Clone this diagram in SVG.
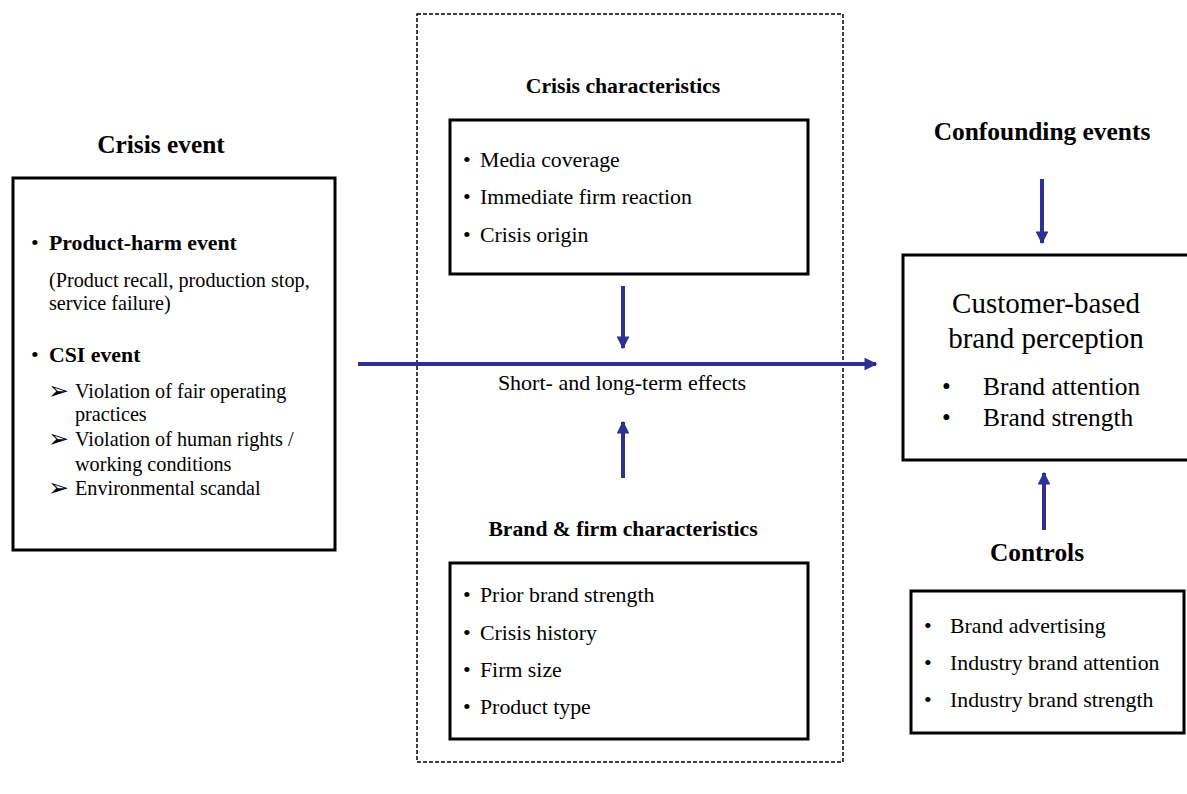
<svg xmlns="http://www.w3.org/2000/svg" width="1187" height="794" viewBox="0 0 1187 794">
  <style>
    text { font-family: "Liberation Serif", "Times New Roman", serif; fill: #000; }
    .title { font-weight: bold; font-size: 21.7px; text-anchor: middle; }
    .title-lg { font-weight: bold; font-size: 25.4px; text-anchor: middle; }
    .item { font-size: 21.8px; }
    .item-sm { font-size: 20.2px; }
    .ctl { font-size: 21.8px; }
    .dot { font-size: 22px; }
    .chev { font-size: 25px; font-family: "DejaVu Sans", sans-serif; }
    .box { fill: #fff; stroke: #000; stroke-width: 3; }
    .frame { fill: none; stroke: #000; stroke-width: 1.5; stroke-dasharray: 4 2; }
    .link { stroke: #2e3192; stroke-width: 4; fill: none; }
  </style>
  <defs>
    <marker id="head" viewBox="0 0 10 10" refX="9" refY="5" markerWidth="3.2" markerHeight="3.2" orient="auto" markerUnits="strokeWidth">
      <path d="M0,0 L10,5 L0,10 Z" fill="#2e3192"/>
    </marker>
  </defs>

  <!-- dashed frame around the moderating characteristics -->
  <rect class="frame" x="417" y="14" width="426" height="748"/>

  <!-- connectors -->
  <g id="connectors">
    <line class="link" x1="358" y1="364" x2="876" y2="364" marker-end="url(#head)"/>
    <line class="link" x1="623" y1="286" x2="623" y2="348" marker-end="url(#head)"/>
    <line class="link" x1="623" y1="478" x2="623" y2="422" marker-end="url(#head)"/>
    <line class="link" x1="1042" y1="179" x2="1042" y2="243" marker-end="url(#head)"/>
    <line class="link" x1="1044" y1="530" x2="1044" y2="473" marker-end="url(#head)"/>
  </g>

  <text x="622" y="390" font-size="22" text-anchor="middle">Short- and long-term effects</text>

  <!-- crisis event -->
  <g id="crisis-event">
    <text class="title-lg" x="161" y="153">Crisis event</text>
    <rect class="box" x="13" y="178" width="322" height="372"/>
    <text class="dot" x="31" y="250">•</text>
    <text class="item" x="49" y="250" font-weight="bold">Product-harm event</text>
    <text class="item-sm" x="49" y="287">(Product recall, production stop,</text>
    <text class="item-sm" x="49" y="310">service failure)</text>
    <text class="dot" x="31" y="362">•</text>
    <text class="item" x="49" y="362" font-weight="bold">CSI event</text>
    <text class="chev" x="48" y="399">➢</text>
    <text class="item-sm" x="75" y="398">Violation of fair operating</text>
    <text class="item-sm" x="75" y="421">practices</text>
    <text class="chev" x="48" y="447">➢</text>
    <text class="item-sm" x="75" y="446">Violation of human rights /</text>
    <text class="item-sm" x="75" y="471">working conditions</text>
    <text class="chev" x="48" y="496">➢</text>
    <text class="item-sm" x="75" y="495">Environmental scandal</text>
  </g>

  <!-- crisis characteristics -->
  <g id="crisis-characteristics">
    <text class="title" x="623" y="93">Crisis characteristics</text>
    <rect class="box" x="450" y="120" width="358" height="154"/>
    <text class="dot" x="463" y="167">•</text>
    <text class="item" x="480" y="167">Media coverage</text>
    <text class="dot" x="463" y="204">•</text>
    <text class="item" x="480" y="204">Immediate firm reaction</text>
    <text class="dot" x="463" y="242">•</text>
    <text class="item" x="480" y="242">Crisis origin</text>
  </g>

  <!-- brand and firm characteristics -->
  <g id="brand-firm-characteristics">
    <text class="title" x="623" y="536">Brand &amp; firm characteristics</text>
    <rect class="box" x="450" y="563" width="358" height="176"/>
    <text class="dot" x="463" y="602">•</text>
    <text class="item" x="480" y="602">Prior brand strength</text>
    <text class="dot" x="463" y="640">•</text>
    <text class="item" x="480" y="640">Crisis history</text>
    <text class="dot" x="463" y="677">•</text>
    <text class="item" x="480" y="677">Firm size</text>
    <text class="dot" x="463" y="714">•</text>
    <text class="item" x="480" y="714">Product type</text>
  </g>

  <!-- confounding events -->
  <g id="confounding-events">
    <text class="title-lg" x="1042" y="140">Confounding events</text>
  </g>

  <!-- outcome -->
  <g id="brand-perception">
    <rect class="box" x="903" y="255" width="300" height="205"/>
    <text x="1046" y="313" font-size="29" text-anchor="middle">Customer-based</text>
    <text x="1046" y="348" font-size="29" text-anchor="middle">brand perception</text>
    <text x="942" y="395" font-size="25">•</text>
    <text x="983" y="395" font-size="25.4">Brand attention</text>
    <text x="942" y="426" font-size="25">•</text>
    <text x="983" y="426" font-size="25.4">Brand strength</text>
  </g>

  <!-- controls -->
  <g id="controls">
    <text class="title-lg" x="1037" y="561">Controls</text>
    <rect class="box" x="911" y="591" width="273" height="142"/>
    <text class="dot" x="924" y="633">•</text>
    <text class="ctl" x="950" y="633">Brand advertising</text>
    <text class="dot" x="924" y="670">•</text>
    <text class="ctl" x="950" y="670">Industry brand attention</text>
    <text class="dot" x="924" y="707">•</text>
    <text class="ctl" x="950" y="707">Industry brand strength</text>
  </g>
</svg>
